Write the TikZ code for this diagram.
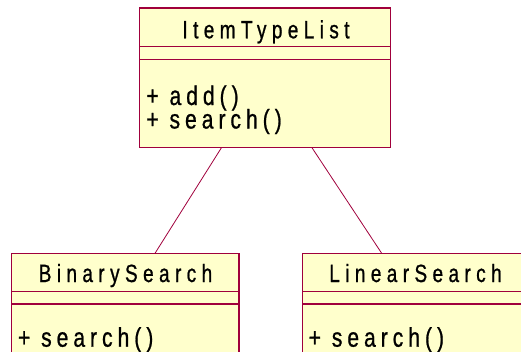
\documentclass[tikz,border=0pt]{standalone}
\usepackage{fontspec}
\newfontfamily\titlefont[LetterSpace=21.6,FakeStretch=0.76,FakeBold=0.8]{Liberation Sans}
\newfontfamily\opfont[LetterSpace=18.5,FakeStretch=0.78,FakeBold=0.8]{Liberation Sans}
\definecolor{umlfill}{RGB}{255,255,204}
\definecolor{umlline}{RGB}{160,0,60}
\tikzset{
  classbox/.style={draw=umlline, fill=umlfill, line width=1.1pt},
  sepline/.style={draw=umlline, line width=1.1pt},
  assoc/.style={draw=umlline, line width=0.8pt},
  titletext/.style={inner sep=0pt, text height=16pt, text depth=4pt,
    font=\titlefont\fontsize{25}{25}\selectfont, text=black},
  optext/.style={inner sep=0pt, font=\opfont\fontsize{27}{23.5}\selectfont, text=black},
}
% operation compartment lines, stacked from the first baseline down
\newcommand{\oplines}[1]{\vtop{\baselineskip=23.5pt\lineskiplimit=-30pt #1}}
\begin{document}
\begin{tikzpicture}[x=1pt, y=-1pt]
\useasboundingbox (0,0) rectangle (521,351);
% ItemTypeList class
\draw[classbox] (139.3,8) rectangle (390.7,147.3);
\draw[sepline] (139.3,46.7) -- (390.7,46.7);
\draw[sepline] (139.3,59.3) -- (390.7,59.3);
\node[titletext, anchor=base] (itl) at (266,38.3) {ItemTypeList};
\node[optext, anchor=base west] (itlops) at (146.2,105)
  {\oplines{\hbox{+ add()}\hbox{+ search()}}};
\coordinate (itlL) at (221.7,147.3);
\coordinate (itlR) at (311.7,147.3);
% BinarySearch class
\draw[classbox] (11.7,253.3) rectangle (239,360);
\draw[sepline] (11.7,291.7) -- (239,291.7);
\draw[sepline] (11.7,304) -- (239,304);
\node[titletext, anchor=base] (bs) at (125.5,282) {BinarySearch};
\node[optext, anchor=base west] (bssearch) at (17.8,346.7) {+ search()};
\coordinate (bsT) at (155,253.3);
% LinearSearch class
\draw[classbox] (302.3,253.3) rectangle (530,360);
\draw[sepline] (302.3,291.7) -- (530,291.7);
\draw[sepline] (302.3,304) -- (530,304);
\node[titletext, anchor=base] (ls) at (415.5,282) {LinearSearch};
\node[optext, anchor=base west] (lssearch) at (308.5,346.7) {+ search()};
\coordinate (lsT) at (381.7,253.3);
% associations
\draw[assoc] (itlL) -- (bsT);
\draw[assoc] (itlR) -- (lsT);
\end{tikzpicture}
\end{document}
